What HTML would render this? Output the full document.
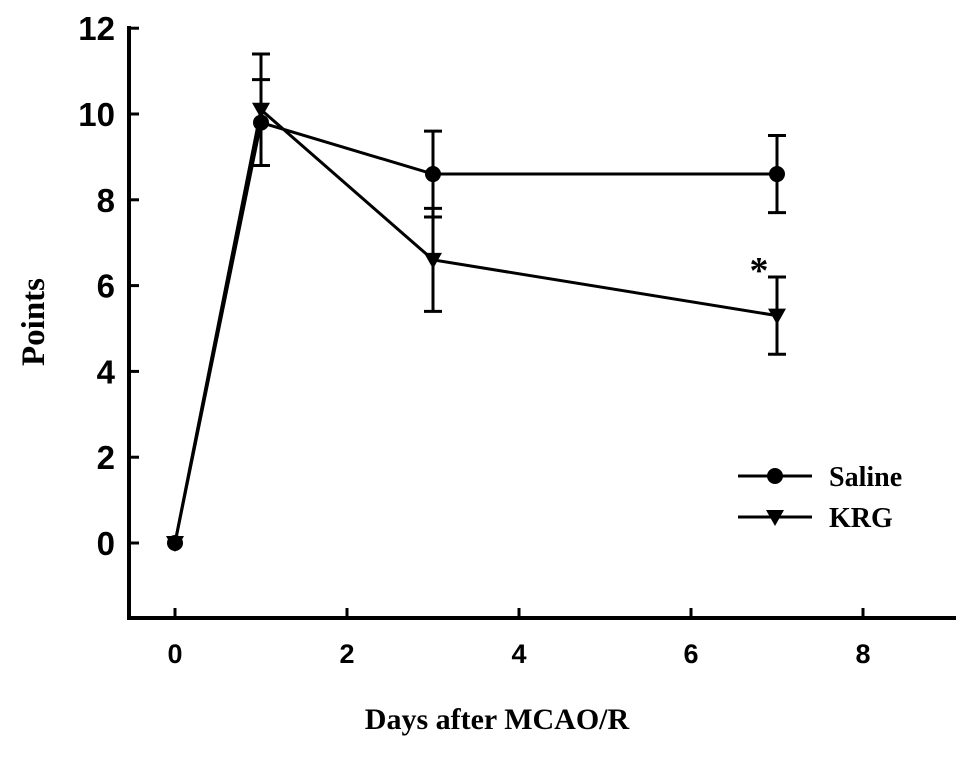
<!DOCTYPE html>
<html><head><meta charset="utf-8"><style>
body{margin:0;background:#fff;}
svg text{font-family:"Liberation Serif",serif;font-weight:bold;fill:#000;}
</style></head><body>
<svg id="chart" width="969" height="763" xmlns="http://www.w3.org/2000/svg"></svg>
<script>
const days = [0, 1, 3, 7];
const salineValues = [0, 9.8, 8.6, 8.6];
const salineErrors = [0, 1.0, 1.0, 0.9];
const krgValues = [0, 10.1, 6.6, 5.3];
const krgErrors = [0, 1.3, 1.2, 0.9];
const xTicks = [0, 2, 4, 6, 8];
const yTicks = [0, 2, 4, 6, 8, 10, 12];

const NS = "http://www.w3.org/2000/svg";
const svg = document.getElementById('chart');
const X = v => 175 + v * 86;
const Y = v => 543 - v * 42.9;
const x0 = 129, y0 = 618;
function mk(tag, attrs, parent){ const e = document.createElementNS(NS, tag); for (const k in attrs) e.setAttribute(k, attrs[k]); (parent||svg).appendChild(e); return e; }

const yAxis = mk('line',{x1:x0,y1:26,x2:x0,y2:y0+2,stroke:'#000','stroke-width':4});


const xAxis = mk('line',{x1:x0-2,y1:y0,x2:956,y2:y0,stroke:'#000','stroke-width':4});



yTicks.forEach(t => {
  const l = mk('line',{x1:x0,y1:Y(t),x2:x0+10,y2:Y(t),stroke:'#000','stroke-width':3});
  
  
  const tx = mk('text',{x:x0-14,y:Y(t)+12,'text-anchor':'end','font-size':33,style:'font-family:"Liberation Sans",sans-serif'});
  tx.textContent = t;
  
  
});
xTicks.forEach(t => {
  const l = mk('line',{x1:X(t),y1:y0,x2:X(t),y2:y0-10,stroke:'#000','stroke-width':3});
  
  
  const tx = mk('text',{x:X(t),y:y0+45,'text-anchor':'middle','font-size':27,style:'font-family:"Liberation Sans",sans-serif'});
  tx.textContent = t;
  
  
});

const yt = mk('text',{x:0,y:0,'text-anchor':'middle','font-size':33,transform:'translate(44,322) rotate(-90)'});
yt.textContent = 'Points';


const xt = mk('text',{x:497,y:729,'text-anchor':'middle','font-size':30});
xt.textContent = 'Days after MCAO/R';



function series(vals, errs, name, marker){
  const g = mk('g',{});
  
  
  const pl = mk('polyline',{points: days.map((d,i)=>X(d)+','+Y(vals[i])).join(' '),fill:'none',stroke:'#000','stroke-width':3}, g);
  
  
  days.forEach((d,i) => {
    if (errs[i] > 0) {
      const cx = X(d), hi = Y(vals[i]+errs[i]), lo = Y(vals[i]-errs[i]);
      const eb = mk('path',{d:`M${cx},${hi}V${lo}M${cx-9},${hi}H${cx+9}M${cx-9},${lo}H${cx+9}`,stroke:'#000','stroke-width':3,fill:'none'}, g);
      
      
    }
    const m = marker(X(d), Y(vals[i]), g);
    
    
  });
}
const circle = (x,y,p) => mk('circle',{cx:x,cy:y,r:8,fill:'#000'},p);
const tri = (x,y,p) => mk('path',{d:`M${x-9},${y-7}H${x+9}L${x},${y+9}Z`,fill:'#000'},p);
series(salineValues, salineErrors, 'saline', circle);
series(krgValues, krgErrors, 'krg', tri);

const star = mk('text',{x:759,y:283,'text-anchor':'middle','font-size':38});
star.textContent = '*';



const lg = mk('g',{});


[['Saline',476,circle],['KRG',517,tri]].forEach(([lab,y,mf]) => {
  const e = mk('g',{},lg);
  
  
  mk('line',{x1:738,y1:y,x2:812,y2:y,stroke:'#000','stroke-width':3},e);
  mf(775,y,e);
  const t = mk('text',{x:829,y:y+10,'font-size':28},e);
  t.textContent = lab;
});
</script>
</body></html>
